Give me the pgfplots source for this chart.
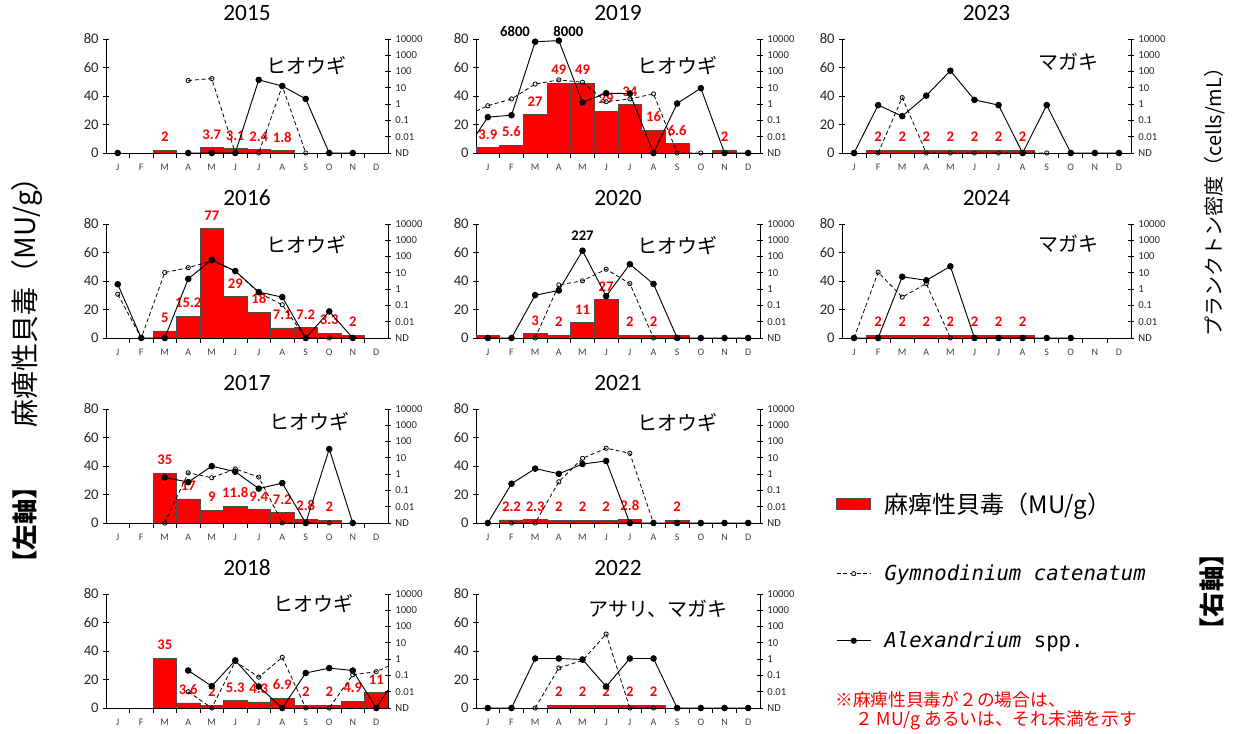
\documentclass[border=0pt]{standalone}
\usepackage{fontspec}
\setmainfont{Carlito}
\newfontfamily\jp{Noto Sans CJK JP}
\newfontfamily\mono{DejaVu Sans Mono}
\usepackage{pgfplots}
\pgfplotsset{compat=1.18}
\pgfkeys{/pgf/number format/assume math mode=true}
\definecolor{pspred}{RGB}{255,0,0}
\tikzset{
 sp/.style={font=\jp\fontsize{15}{15}\selectfont},
 blk/.style={font=\bfseries\fontsize{11}{11}\selectfont},
}
% right axis: values are log10 of cell density (cells/mL); ND plotted at -3
\pgfplotsset{
 pbase/.style={scale only axis, width=#1, height=85.5pt, xmin=0.5, xmax=12.5,
   clip mode=individual,
   tick align=center, axis line style={line width=0.7pt, black},
   every tick/.style={black, line width=0.6pt}, major tick length=4pt, minor tick length=4pt},
 Lax/.style={pbase=#1, ymin=0, ymax=80, ytick={0,20,40,60,80},
   axis y line*=left, axis x line*=bottom,
   xtick={1,...,12}, xticklabels={J,F,M,A,M,J,J,A,S,O,N,D},
   major x tick style={draw=none}, minor xtick={1.5,2.5,...,11.5},
   yticklabel style={font=\fontsize{11}{11}\selectfont, text=black!85},
   xticklabel style={font=\fontsize{7.5}{7.5}\selectfont, text=black!75, yshift=-1pt},
   ybar, bar width=1, bar shift=0pt,
   nodes near coords style={font=\bfseries\fontsize{11}{11}\selectfont, text=pspred, anchor=south, inner sep=1pt, yshift=5pt},
   title style={font=\fontsize{17.5}{17.5}\selectfont, anchor=base, at={(0.5,1)}, yshift=8pt}},
 Rax/.style={pbase=#1, ymin=-3, ymax=4, axis y line*=right, axis x line=none,
   ytick={-3,-2,-1,0,1,2,3,4},
   yticklabels={ND,0.01,0.1,1,10,100,1000,10000},
   yticklabel style={font=\fontsize{8}{8}\selectfont, text=black!85},
   unbounded coords=jump},
 bars/.style={fill=pspred, draw=black!70, line width=0.4pt},
 alex/.style={black, line width=0.7pt, mark=*, mark size=2.1pt, mark options={solid, fill=black}},
 gym/.style={black, line width=0.6pt, dash pattern=on 3pt off 2pt, mark=o, mark size=1.6pt, mark options={solid, fill=white}},
}
\begin{document}
\begin{tikzpicture}
\path[use as bounding box] (0,0) rectangle (927.75pt,550.5pt);

% ---------- 2015 ----------
\begin{axis}[Lax=211.5pt, at={(79.5pt,435.75pt)}, anchor=south west, title={2015}]
\addplot[bars, nodes near coords] coordinates {(3,2) (5,3.7) (6,3.1) (7,2.4) (8,1.8)};
\node[sp] at (rel axis cs:0.71,0.77) {ヒオウギ};
\end{axis}
\begin{axis}[Rax=211.5pt, at={(79.5pt,435.75pt)}, anchor=south west]
\addplot[gym] coordinates {(4,1.45) (5,1.57) (6,-3) (7,-3) (8,1.11) (9,-3)};
\addplot[alex] coordinates {(1,-3) (2,nan) (3,nan) (4,-3) (5,-3) (6,-3) (7,1.49) (8,1.11) (9,0.32) (10,-3) (11,-3)};
\end{axis}

% ---------- 2019 ----------
\begin{axis}[Lax=213pt, at={(357pt,435.75pt)}, anchor=south west, title={2019}]
\addplot[bars, nodes near coords] coordinates {(1,3.9) (2,5.6) (3,27) (4,49) (5,49) (6,29) (7,34) (8,16) (9,6.6) (11,2)};
\node[sp] at (rel axis cs:0.71,0.77) {ヒオウギ};
\node[blk] at (axis cs:2.15,85) {6800};
\node[blk] at (axis cs:4.4,85) {8000};
\end{axis}
\begin{axis}[Rax=213pt, at={(357pt,435.75pt)}, anchor=south west]
\addplot[gym] coordinates {(0,-0.77) (1,-0.10) (2,0.32) (3,1.23) (4,1.49) (5,1.34) (6,0.15) (7,0.32) (8,0.63) (9,-3) (10,-3)};
\addplot[alex] coordinates {(0,-3) (1,-0.80) (2,-0.68) (3,3.83) (4,3.90) (5,0.11) (6,0.67) (7,0.65) (8,-3) (9,0.04) (10,0.98) (11,-3) (12,-3)};
\end{axis}

% ---------- 2023 ----------
\begin{axis}[Lax=216.75pt, at={(631.5pt,435.75pt)}, anchor=south west, title={2023}]
\addplot[bars, nodes near coords] coordinates {(2,2) (3,2) (4,2) (5,2) (6,2) (7,2) (8,2)};
\node[sp] at (rel axis cs:0.785,0.80) {マガキ};
\end{axis}
\begin{axis}[Rax=216.75pt, at={(631.5pt,435.75pt)}, anchor=south west]
\addplot[gym] coordinates {(2,-3) (3,0.40) (4,-3) (5,-3) (6,-3) (7,-3) (8,-3) (9,-3)};
\addplot[alex] coordinates {(1,-3) (2,-0.06) (3,-0.74) (4,0.52) (5,2.05) (6,0.26) (7,-0.06) (8,-3) (9,-0.06) (10,-3) (11,-3) (12,-3)};
\end{axis}

% ---------- 2016 ----------
\begin{axis}[Lax=211.5pt, at={(79.5pt,297pt)}, anchor=south west, title={2016}]
\addplot[bars, nodes near coords] coordinates {(3,5) (4,15.2) (5,77) (6,29) (7,18) (8,7.1) (9,7.2) (10,3.3) (11,2)};
\node[sp] at (rel axis cs:0.71,0.82) {ヒオウギ};
\end{axis}
\begin{axis}[Rax=211.5pt, at={(79.5pt,297pt)}, anchor=south west]
\addplot[gym] coordinates {(1,-0.31) (2,-3) (3,1.02) (4,1.32) (5,1.73) (6,1.11) (7,-0.22) (8,-0.96) (9,-3) (10,-3) (11,-3)};
\addplot[alex] coordinates {(1,0.30) (2,-3) (3,-3) (4,0.63) (5,1.80) (6,1.11) (7,-0.18) (8,-0.49) (9,-3) (10,-1.37) (11,-3)};
\end{axis}

% ---------- 2020 ----------
\begin{axis}[Lax=213pt, at={(357pt,297pt)}, anchor=south west, title={2020}]
\addplot[bars] coordinates {(1,2) (9,2)};
\addplot[bars, nodes near coords] coordinates {(3,3) (4,2) (5,11) (6,27) (7,2) (8,2)};
\node[sp] at (rel axis cs:0.71,0.81) {ヒオウギ};
\node[blk] at (axis cs:5,72) {227};
\end{axis}
\begin{axis}[Rax=213pt, at={(357pt,297pt)}, anchor=south west]
\addplot[gym] coordinates {(3,-3) (4,0.26) (5,0.51) (6,1.22) (7,0.34) (8,-3)};
\addplot[alex] coordinates {(1,-3) (2,-3) (3,-0.37) (4,-0.08) (5,2.36) (6,-0.43) (7,1.53) (8,0.32) (9,-3) (10,-3) (11,-3) (12,-3)};
\end{axis}

% ---------- 2024 ----------
\begin{axis}[Lax=216.75pt, at={(631.5pt,297pt)}, anchor=south west, title={2024}]
\addplot[bars, nodes near coords] coordinates {(2,2) (3,2) (4,2) (5,2) (6,2) (7,2) (8,2)};
\node[sp] at (rel axis cs:0.785,0.83) {マガキ};
\end{axis}
\begin{axis}[Rax=216.75pt, at={(631.5pt,297pt)}, anchor=south west]
\addplot[gym] coordinates {(1,-3) (2,1.04) (3,-0.49) (4,0.34) (5,-3)};
\addplot[alex] coordinates {(1,-3) (2,-3) (3,0.76) (4,0.54) (5,1.40) (6,-3) (7,-3) (8,-3) (9,-3) (10,-3)};
\end{axis}

% ---------- 2017 ----------
\begin{axis}[Lax=211.5pt, at={(79.5pt,158.25pt)}, anchor=south west, title={2017}]
\addplot[bars, nodes near coords] coordinates {(3,35) (4,17) (5,9) (6,11.8) (7,9.4) (8,7.2) (9,2.8) (10,2)};
\node[sp] at (rel axis cs:0.72,0.89) {ヒオウギ};
\end{axis}
\begin{axis}[Rax=211.5pt, at={(79.5pt,158.25pt)}, anchor=south west]
\addplot[gym] coordinates {(3,-3) (4,0.08) (5,-0.22) (6,0.32) (7,-0.18) (8,-3) (9,-3) (10,-3)};
\addplot[alex] coordinates {(3,-0.20) (4,-0.49) (5,0.49) (6,0.15) (7,-0.89) (8,-0.55) (9,-3) (10,1.54) (11,-3)};
\end{axis}

% ---------- 2021 ----------
\begin{axis}[Lax=213pt, at={(357pt,158.25pt)}, anchor=south west, title={2021}]
\addplot[bars, nodes near coords] coordinates {(2,2.2) (3,2.3) (4,2) (5,2) (6,2) (7,2.8) (9,2)};
\node[sp] at (rel axis cs:0.71,0.88) {ヒオウギ};
\end{axis}
\begin{axis}[Rax=213pt, at={(357pt,158.25pt)}, anchor=south west]
\addplot[gym] coordinates {(2,-3) (3,-3) (4,-0.47) (5,0.97) (6,1.59) (7,1.28) (8,-3)};
\addplot[alex] coordinates {(1,-3) (2,-0.59) (3,0.34) (4,0.02) (5,0.62) (6,0.81) (7,-3) (8,-3) (9,-3) (10,-3) (11,-3) (12,-3)};
\end{axis}

% ---------- 2018 ----------
\begin{axis}[Lax=211.5pt, at={(79.5pt,19.5pt)}, anchor=south west, title={2018}]
\addplot[bars, nodes near coords] coordinates {(3,35) (4,3.6) (5,2) (6,5.3) (7,4.3) (8,6.9) (9,2) (10,2) (11,4.9) (12,11)};
\node[sp] at (rel axis cs:0.735,0.92) {ヒオウギ};
\end{axis}
\begin{axis}[Rax=211.5pt, at={(79.5pt,19.5pt)}, anchor=south west]
\addplot[gym] coordinates {(4,-2) (5,-3) (6,-0.14) (7,-1.10) (8,0.11) (9,-3) (10,-3) (11,-0.96) (12,-0.77) (13,-0.10)};
\addplot[alex] coordinates {(4,-0.70) (5,-1.66) (6,-0.08) (7,-1.68) (8,-3) (9,-0.85) (10,-0.55) (11,-0.70) (12,-3) (13,-0.80)};
\end{axis}

% ---------- 2022 ----------
\begin{axis}[Lax=213pt, at={(357pt,19.5pt)}, anchor=south west, title={2022}]
\addplot[bars, nodes near coords] coordinates {(4,2) (5,2) (6,2) (7,2) (8,2)};
\node[sp] at (rel axis cs:0.64,0.87) {アサリ、マガキ};
\end{axis}
\begin{axis}[Rax=213pt, at={(357pt,19.5pt)}, anchor=south west]
\addplot[gym] coordinates {(3,-3) (4,-0.54) (5,-0.08) (6,1.54) (7,-3) (8,-3)};
\addplot[alex] coordinates {(1,-3) (2,-3) (3,0.04) (4,0.04) (5,-0.02) (6,-1.68) (7,0.04) (8,0.04) (9,-3) (10,-3) (11,-3) (12,-3)};
\end{axis}

% ---------- legend ----------
\begin{axis}[hide axis, scale only axis, width=10pt, height=10pt, at={(627pt,183pt)}, anchor=north west,
  xmin=0, xmax=1, ymin=0, ymax=1,
  legend style={at={(0,1)}, anchor=north west, draw=none, fill=none, inner sep=0pt,
    row sep=33pt, cells={anchor=west}, font=\jp\fontsize{18}{18}\selectfont,
    nodes={inner xsep=10pt}}]
\addlegendimage{legend image code/.code={\draw[fill=pspred, draw=black!70, line width=0.4pt] (0pt,-4.1pt) rectangle (25.5pt,4.1pt);}}
\addlegendentry{麻痺性貝毒（MU/g）}
\addlegendimage{legend image code/.code={\draw[black, line width=0.6pt, dash pattern=on 3pt off 2pt] (0pt,0pt) -- (25.5pt,0pt); \draw[black, solid, fill=white, line width=0.6pt] (12.75pt,0pt) circle (1.6pt);}}
\addlegendentry{\mono\itshape\fontsize{15.5}{15.5}\selectfont Gymnodinium catenatum}
\addlegendimage{legend image code/.code={\draw[black, line width=0.7pt] (0pt,0pt) -- (25.5pt,0pt); \fill[black] (12.75pt,0pt) circle (2.1pt);}}
\addlegendentry{\mono\fontsize{15.5}{15.5}\selectfont\textit{Alexandrium} spp.}
\end{axis}

% ---------- notes and side labels ----------
\node[anchor=west, text=pspred, font=\jp\fontsize{13.3}{13.3}\selectfont, inner sep=0pt] at (626.25pt,25.5pt) {※麻痺性貝毒が２の場合は、};
\node[anchor=west, text=pspred, font=\jp\fontsize{13.3}{13.3}\selectfont, inner sep=0pt] at (641.25pt,10.5pt) {２ MU/g あるいは、それ未満を示す};
\node[rotate=90, font=\jp\fontsize{21}{21}\selectfont, inner sep=0pt] at (20pt,329pt) {麻痺性貝毒（MU/g）};
\node[rotate=90, font=\jp\bfseries\fontsize{19}{19}\selectfont, inner sep=0pt] at (19pt,156.75pt) {【左軸】};
\node[rotate=90, font=\jp\fontsize{15}{15}\selectfont, inner sep=0pt] at (911pt,402.75pt) {プランクトン密度（cells/mL）};
\node[rotate=90, font=\jp\bfseries\fontsize{19}{19}\selectfont, inner sep=0pt] at (909pt,106.5pt) {【右軸】};
\end{tikzpicture}
\end{document}
